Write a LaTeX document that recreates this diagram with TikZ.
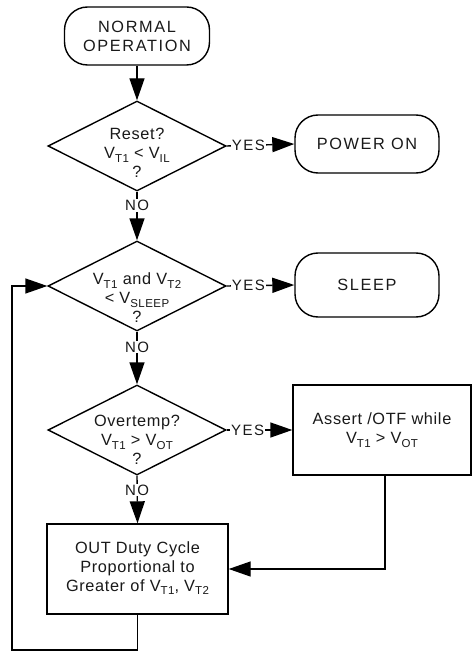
\documentclass[tikz,border=0pt]{standalone}
\usepackage{fontspec}
\setmainfont{Liberation Sans}[LetterSpace=4]
\newfontfamily\capsf{Liberation Sans}[LetterSpace=10]
\usetikzlibrary{shapes.geometric,arrows.meta}
\newcommand\subs[1]{\raisebox{-0.22em}{\fontsize{11.5}{11.5}\selectfont #1}}
\begin{document}
\begin{tikzpicture}[x=1pt,y=-1pt,
  every node/.style={font=\fontsize{16.3}{19}\selectfont, text=black!90},
  term/.style={draw, line width=1.4pt, rounded corners=23pt, minimum width=145pt, minimum height=58pt, inner sep=0pt, align=center, font=\capsf\fontsize{16.3}{19}\selectfont},
  dia/.style={draw, diamond, line width=1.4pt, minimum width=178pt, minimum height=90pt, inner sep=0pt},
  proc/.style={draw, line width=1.4pt, minimum width=180pt, minimum height=90pt, inner sep=0pt},
  txt/.style={align=center, inner sep=0pt},
  lbl/.style={fill=white, inner sep=1pt, font=\capsf\fontsize{15}{15}\selectfont},
  conn/.style={line width=1.4pt, -{Triangle[length=22pt,width=15pt]}}
]
\useasboundingbox (0,0) rectangle (472,652);
% nodes
\node[term] (start) at (137,36) {NORMAL\\OPERATION};
\node[dia] (d1) at (137,146) {};
\node[txt] (t1) at (137,153) {Reset?\\V\subs{T1} < V\subs{IL}\\?};
\node[term, minimum width=144pt] (power) at (367,144) {POWER ON};
\node[dia] (d2) at (137,286) {};
\node[txt] (t2) at (137,298) {V\subs{T1} and V\subs{T2}\\< V\subs{SLEEP}\\?};
\node[term, minimum width=144pt, minimum height=64pt] (sleep) at (367,285) {SLEEP};
\node[dia] (d3) at (137,430) {};
\node[txt] (t3) at (137,440) {Overtemp?\\V\subs{T1} > V\subs{OT}\\?};
\node[proc, minimum width=178pt] (assert) at (382,430) {};
\node[txt] (t4) at (382,430) {Assert /OTF while\\V\subs{T1} > V\subs{OT}};
\node[proc, minimum width=181pt] (out) at (137.5,569) {};
\node[txt] (t5) at (137.5,568) {OUT Duty Cycle\\Proportional to\\Greater of V\subs{T1}, V\subs{T2}};
\coordinate (loop) at (12,650);
% connectors
\draw[conn] (start) -- (d1.north);
\draw[conn] (d1.east) -- node[lbl, pos=0.32] {YES} (power.west);
\draw[conn] (d1.south) -- node[lbl, pos=0.29] {NO} (d2.north);
\draw[conn] (d2.east) -- node[lbl, pos=0.32] {YES} (sleep.west);
\draw[conn] (d2.south) -- node[lbl, pos=0.29] {NO} (d3.north);
\draw[conn] (d3.east) -- node[lbl, pos=0.32] {YES} (assert.west);
\draw[conn] (d3.south) -- node[lbl, pos=0.3] {NO} (out.north);
\draw[conn] ([xshift=3pt]assert.south) |- (out.east);
\draw[conn] (out.south) |- (loop) |- (d2.west);
\end{tikzpicture}
\end{document}
